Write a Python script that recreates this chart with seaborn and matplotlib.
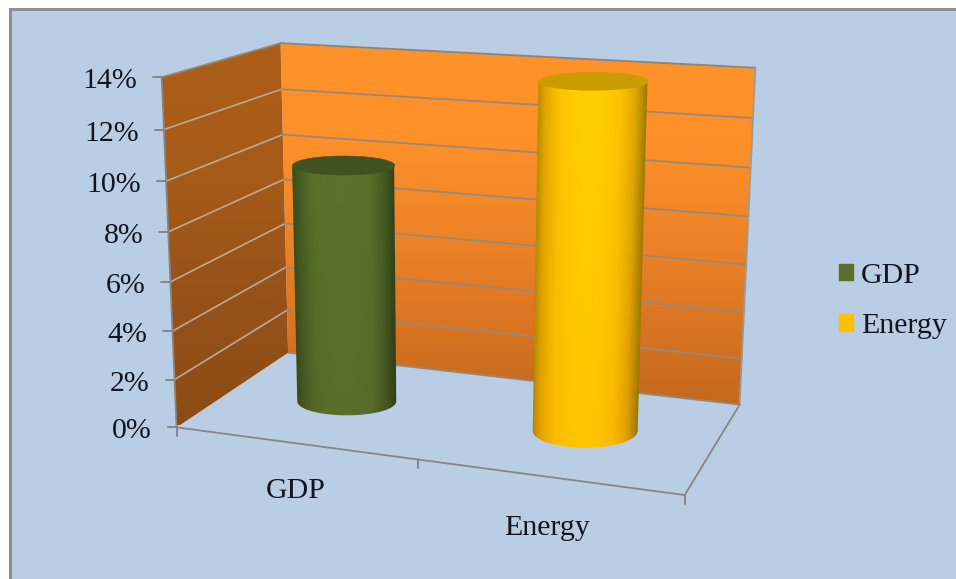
import numpy as np
import matplotlib
matplotlib.use("Agg")
import matplotlib.pyplot as plt
from matplotlib.collections import PolyCollection
from matplotlib.patches import Patch, Polygon, Rectangle
import seaborn as sns

# Chart data
categories = ["GDP", "Energy"]
values = [10.0, 13.95]
tick_values = [0, 2, 4, 6, 8, 10, 12, 14]
tick_labels = ["0%", "2%", "4%", "6%", "8%", "10%", "12%", "14%"]
z_max = 14

# Palette
BACKDROP = "#b9cde4"
FRAME = "#8f8f8f"
AXIS = "#868686"
TEXT = "#14141e"
legend_colors = ["#56702a", "#ffc000"]
top_colors = ["#3f5320", "#c99c00"]
body_stops = [
    ["#2f4018", "#445c20", "#56702a", "#5a742c"],
    ["#9a7a00", "#e0a800", "#fcc400", "#ffd000"],
]

sns.set_theme(style="white")
plt.rcParams["font.family"] = ["Liberation Serif", "DejaVu Serif"]

fig = plt.figure(figsize=(9.56, 5.79), dpi=100, facecolor="white")
ax = fig.add_axes([0, 0, 1, 1])
ax.axis("off")

ax.add_patch(Rectangle((10, 9), 950, 580, facecolor=BACKDROP, edgecolor=FRAME, lw=2.2, zorder=0))

# Camera: a perspective matrix solved from known points of the chart box,
# taking (category position, depth, value) to canvas pixels.
box_anchors = [
    (0, 0, 0, 177, 425), (0, 0, 14, 162, 77), (0, 1, 14, 280, 44), (0, 1, 0, 288, 353),
    (2, 1, 14, 756, 68), (2, 1, 0, 740, 404), (2, 0, 0, 684, 493), (1, 0, 0, 418, 465),
    (0, 0, 8, 168, 231), (0, 1, 8, 284, 179), (2, 1, 8, 748, 216),
]
rows, rhs = [], []
for cx, cy, cz, px, py in box_anchors:
    rows.append([cx, cy, cz, 1, 0, 0, 0, 0, -px * cx, -px * cy, -px * cz])
    rows.append([0, 0, 0, 0, cx, cy, cz, 1, -py * cx, -py * cy, -py * cz])
    rhs += [px, py]
m = np.linalg.lstsq(np.array(rows, float), np.array(rhs, float), rcond=None)[0]


def project(x, y, z):
    w = m[8] * x + m[9] * y + m[10] * z + 1
    return (m[0] * x + m[1] * y + m[2] * z + m[3]) / w, (m[4] * x + m[5] * y + m[6] * z + m[7]) / w


def clipped_image(rgb, extent, outline, zorder):
    """Show an RGB array over a canvas extent, trimmed to a polygon outline."""
    im = ax.imshow(rgb, extent=extent, origin="upper", aspect="auto", zorder=zorder, interpolation="bilinear")
    clip = Polygon(outline, closed=True, transform=ax.transData, fill=False, edgecolor="none")
    ax.add_patch(clip)
    im.set_clip_path(clip)


def shaded_wall(corners, stops, zorder):
    """Fill a wall polygon with a gradient running down the canvas."""
    pal = np.array(sns.blend_palette(stops, n_colors=400))
    x0, x1 = min(p[0] for p in corners), max(p[0] for p in corners)
    rgb = pal[:, :3][:, None, :].repeat(2, axis=1)
    clipped_image(rgb, (x0, x1, 425, 44), corners, zorder)


shaded_wall([project(0, 0, 0), project(0, 1, 0), project(0, 1, z_max), project(0, 0, z_max)],
            ["#ad5f1a", "#a65b18", "#96521a", "#8c4c14"], 1)
shaded_wall([project(0, 1, 0), project(2, 1, 0), project(2, 1, z_max), project(0, 1, z_max)],
            ["#ff9228", "#fd9028", "#ee8428", "#d87422", "#bd661e"], 1)

# Gridlines run along the side wall and then across the back wall.
for v in tick_values[1:-1]:
    a, b, c = project(0, 0, v), project(0, 1, v), project(2, 1, v)
    sns.lineplot(x=[a[0], b[0]], y=[a[1], b[1]], sort=False, estimator=None, ax=ax,
                 color="#bdaa90", lw=1.2, zorder=2, legend=False)
    sns.lineplot(x=[b[0], c[0]], y=[b[1], c[1]], sort=False, estimator=None, ax=ax,
                 color="#97897a", lw=1.3, zorder=2, legend=False)

# Outline of the box
for p, q, col in [((0, 0, 14), (0, 1, 14), "#9a8a70"), ((0, 1, 14), (2, 1, 14), "#8e8478"),
                  ((0, 0, 0), (0, 0, 14), AXIS), ((2, 1, 0), (2, 1, 14), "#a09a90"),
                  ((0, 1, 0), (2, 1, 0), "#8f8a80"), ((0, 0, 0), (2, 0, 0), AXIS),
                  ((2, 0, 0), (2, 1, 0), AXIS)]:
    a, b = project(*p), project(*q)
    ax.plot([a[0], b[0]], [a[1], b[1]], color=col, lw=1.3, zorder=2, solid_capstyle="round")

# Value axis ticks and labels
for v, lab in zip(tick_values, tick_labels):
    px, py = project(0, 0, v)
    ax.plot([px - 9, px], [py, py], color=AXIS, lw=1.4, zorder=2)
    ax.text(px - 25, py + 4, lab, ha="right", va="center", fontsize=21.5, color=TEXT, zorder=5)

# Category axis ticks and labels
for x in (0, 1, 2):
    px, py = project(x, 0, 0)
    ax.plot([px, px], [py, py + 9], color=AXIS, lw=1.4, zorder=2)
label_x = [0.5, 1.5]
label_drop = [(1, 48), (-1, 51)]
for x, lab, (dx, dy) in zip(label_x, categories, label_drop):
    px, py = project(x, 0, 0)
    ax.text(px + dx, py + dy, lab, ha="center", va="center", fontsize=21.5, color=TEXT, zorder=5)

# Screen-space half-axes of each cylinder's base and lid ellipses
radii = {"GDP": ((49.5, 14), (51, 9.5)), "Energy": ((52.5, 17), (54.5, 9))}
bar_x = [0.498, 1.497]


def draw_cylinder(x_pos, value, name, stops, lid):
    bx, by = project(x_pos, 0.5, 0)
    tx, ty = project(x_pos, 0.5, value)
    (ba, bb), (ta, tb) = radii[name]
    pal = np.array(sns.blend_palette(stops, n_colors=256))[:, :3]

    # Shading depends on the position across the body at each canvas row.
    x0, x1 = min(bx - ba, tx - ta) - 2, max(bx + ba, tx + ta) + 2
    y0, y1 = ty - tb - 2, by + bb + 2
    nx, ny = 2 * int(x1 - x0), 2 * int(y1 - y0)
    xs = np.linspace(x0, x1, nx)
    ys = np.linspace(y0, y1, ny)
    frac = np.clip((ys - ty) / (by - ty), 0, 1)
    centre = tx + (bx - tx) * frac
    half = ta + (ba - ta) * frac
    u = (xs[None, :] - centre[:, None]) / half[:, None]
    shade = 1 - np.clip(np.abs(u + 0.05) / 1.05, 0, 1) ** 1.7
    rgb = pal[(shade * 255).astype(int)].copy()
    rgb[..., 1] *= (1 - 0.05 * frac[:, None])

    t = np.linspace(0, np.pi, 80)
    front_base = np.column_stack([bx + ba * np.cos(t), by + bb * np.sin(t)])
    back_top = np.column_stack([tx - ta * np.cos(t), ty + tb * np.sin(t)])
    clipped_image(np.clip(rgb, 0, 1), (x0, x1, y1, y0), np.vstack([front_base, back_top]), 3)

    theta = np.linspace(0, 2 * np.pi, 160)
    lid_pts = np.column_stack([tx + ta * np.cos(theta), ty + tb * np.sin(theta)])
    ax.add_collection(PolyCollection([lid_pts], facecolors=[lid], edgecolors=[lid], linewidths=0.4, zorder=4))


for x, v, name, stops, lid in zip(bar_x, values, categories, body_stops, top_colors):
    draw_cylinder(x, v, name, stops, lid)

ax.set_xlim(0, 956)
ax.set_ylim(579, 0)
ax.set_aspect("auto")

handles = [Patch(facecolor=c, edgecolor=c, label=n) for c, n in zip(legend_colors, categories)]
ax.legend(handles=handles, loc="center left", bbox_to_anchor=(824, 301), bbox_transform=ax.transData,
          frameon=False, fontsize=21.5, handlelength=0.47, handleheight=0.47, handletextpad=0.27,
          labelspacing=0.82, labelcolor=TEXT, borderpad=0, borderaxespad=0.5)

fig.savefig("out.png", dpi=100, facecolor="white")
